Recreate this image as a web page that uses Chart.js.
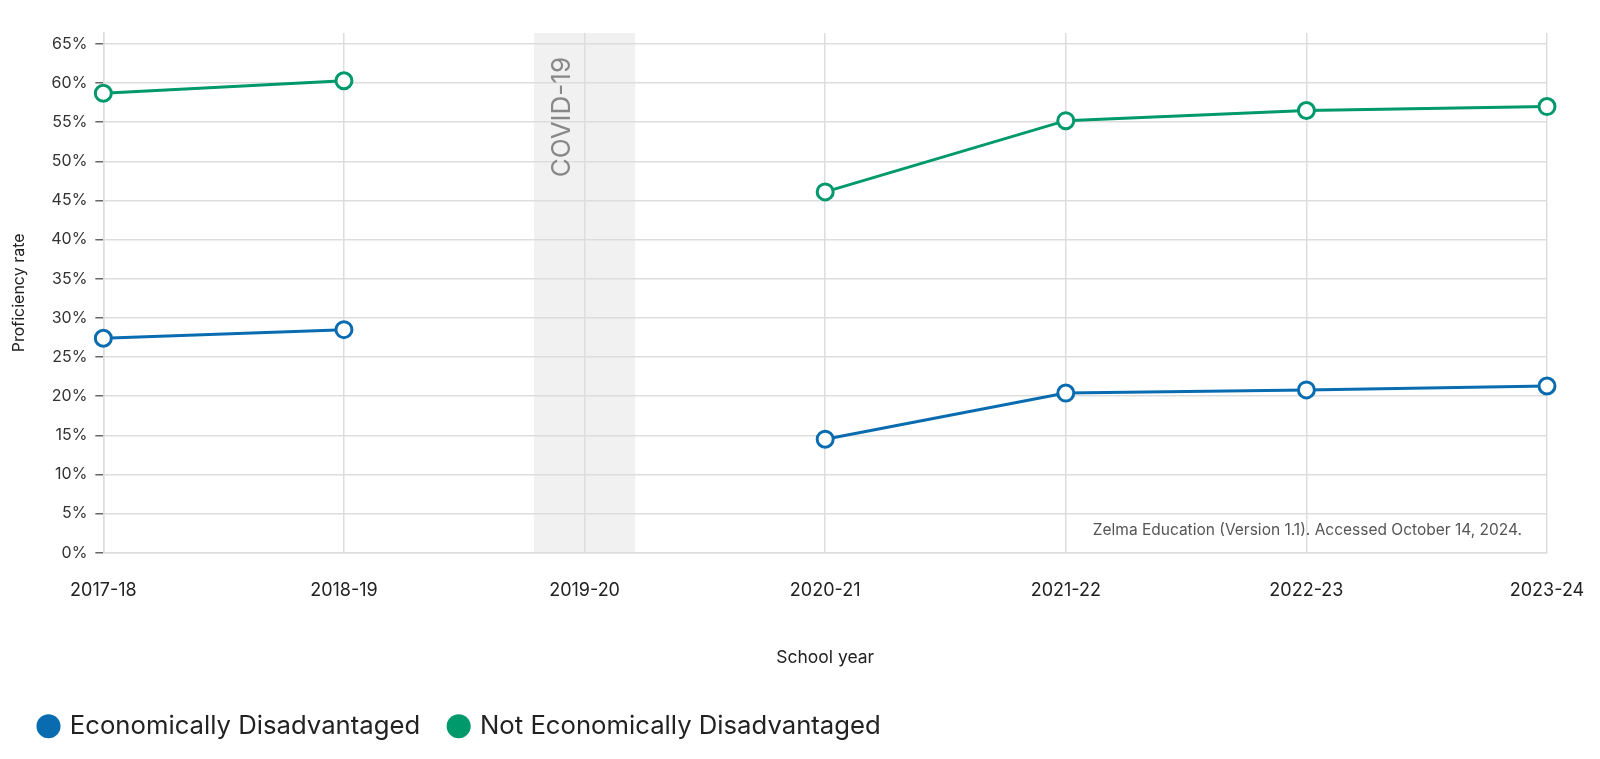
<!DOCTYPE html>
<html>
<head>
<meta charset="utf-8">
<script src="https://cdn.jsdelivr.net/npm/chart.js@4.4.1/dist/chart.umd.min.js"></script>
<style>
  html, body { margin: 0; padding: 0; background: #fff; }
  #wrap { width: 1600px; height: 759px; }
</style>
</head>
<body>
<div id="wrap"><canvas id="myChart"></canvas></div>
<script>
let years = ['2017-18', '2018-19', '2019-20', '2020-21', '2021-22', '2022-23', '2023-24'];
let econDis = [27.4, 28.5, null, 14.5, 20.4, 20.8, 21.3];
let notEconDis = [58.7, 60.3, null, 46.1, 55.2, 56.5, 57.0];
let yTicks = [0, 5, 10, 15, 20, 25, 30, 35, 40, 45, 50, 55, 60, 65];
let covidYear = '2019-20';
let sourceNote = 'Zelma Education (Version 1.1). Accessed October 14, 2024.';

let blue = '#0a6cb0',
    green = '#00996c',
    ctx = document.getElementById('myChart').getContext('2d');

Chart.defaults.font.family = 'Inter, "Noto Sans", sans-serif';

// grey band + label behind the gap year, source note bottom right
let covidBand = {
    id: 'covidBand',
    beforeDraw(chart) {
        let c = chart.ctx, a = chart.chartArea, x = chart.scales.x;
        let i = years.indexOf(covidYear);
        let x0 = x.getPixelForValue(i - 0.21), x1 = x.getPixelForValue(i + 0.21);
        c.save();
        c.fillStyle = '#f1f1f1';
        c.fillRect(x0, a.top, x1 - x0, a.bottom - a.top);
        c.restore();
    },
    afterDraw(chart) {
        let c = chart.ctx, a = chart.chartArea, x = chart.scales.x;
        let i = years.indexOf(covidYear);
        c.save();
        c.translate(x.getPixelForValue(i) - 22, a.top + 24);
        c.rotate(-Math.PI / 2);
        c.fillStyle = '#888';
        c.font = '26px Inter, "Noto Sans", sans-serif';
        c.textAlign = 'right';
        c.textBaseline = 'middle';
        c.fillText('COVID-19', 0, 0);
        c.restore();

        c.save();
        c.fillStyle = '#555';
        c.font = '15.5px Inter, "Noto Sans", sans-serif';
        c.textAlign = 'right';
        c.textBaseline = 'middle';
        c.fillText(sourceNote, a.right - 25, a.bottom - 22);
        c.restore();
    }
};

let myChart = new Chart(ctx, {
    type: 'line',
    data: {
        labels: years,
        datasets: [{
            label: 'Economically Disadvantaged',
            data: econDis,
            borderColor: blue,
            backgroundColor: blue,
            pointBackgroundColor: '#fff',
            pointBorderColor: blue,
            borderWidth: 3,
            pointRadius: 8,
            pointBorderWidth: 3,
            spanGaps: false
        }, {
            label: 'Not Economically Disadvantaged',
            data: notEconDis,
            borderColor: green,
            backgroundColor: green,
            pointBackgroundColor: '#fff',
            pointBorderColor: green,
            borderWidth: 3,
            pointRadius: 8,
            pointBorderWidth: 3,
            spanGaps: false
        }]
    },
    options: {
        responsive: true,
        maintainAspectRatio: false,
        animation: false,
        layout: { padding: { top: 33, right: 53, left: 10, bottom: 10 } },
        plugins: {
            legend: {
                position: 'bottom',
                align: 'start',
                labels: {
                    usePointStyle: true,
                    pointStyle: 'circle',
                    boxWidth: 17,
                    boxHeight: 17,
                    padding: 30,
                    color: '#222',
                    font: { size: 25.7 },
                    generateLabels(chart) {
                        return chart.data.datasets.map((ds, i) => ({
                            text: ds.label,
                            fillStyle: ds.borderColor,
                            strokeStyle: ds.borderColor,
                            lineWidth: 0,
                            pointStyle: 'circle',
                            fontColor: '#222',
                            hidden: !chart.isDatasetVisible(i),
                            datasetIndex: i
                        }));
                    }
                }
            },
            tooltip: { enabled: false }
        },
        scales: {
            x: {
                offset: false,
                afterFit(scale) {
                    scale.paddingRight = 0;
                },
                grid: { color: '#dddddd', drawTicks: false, lineWidth: 1.5 },
                border: { color: '#dddddd', width: 1.5 },
                ticks: { color: '#222', font: { size: 18 }, padding: 27, maxRotation: 0 },
                title: { display: true, text: 'School year', color: '#222', font: { size: 17.5 }, padding: { top: 19, bottom: 15 } }
            },
            y: {
                min: 0,
                max: 66.4,
                afterBuildTicks(scale) {
                    scale.ticks = yTicks.map(v => ({ value: v }));
                },
                grid: { color: '#dddddd', lineWidth: 1.5, tickColor: '#666', tickLength: 8 },
                border: { color: '#dddddd', width: 1.5 },
                ticks: { color: '#333', font: { size: 16 }, padding: 8, callback: v => v + '%' },
                title: { display: true, text: 'Proficiency rate', color: '#222', font: { size: 16 }, padding: { top: 0, bottom: 14 } }
            }
        }
    },
    plugins: [covidBand]
});
</script>
</body>
</html>
